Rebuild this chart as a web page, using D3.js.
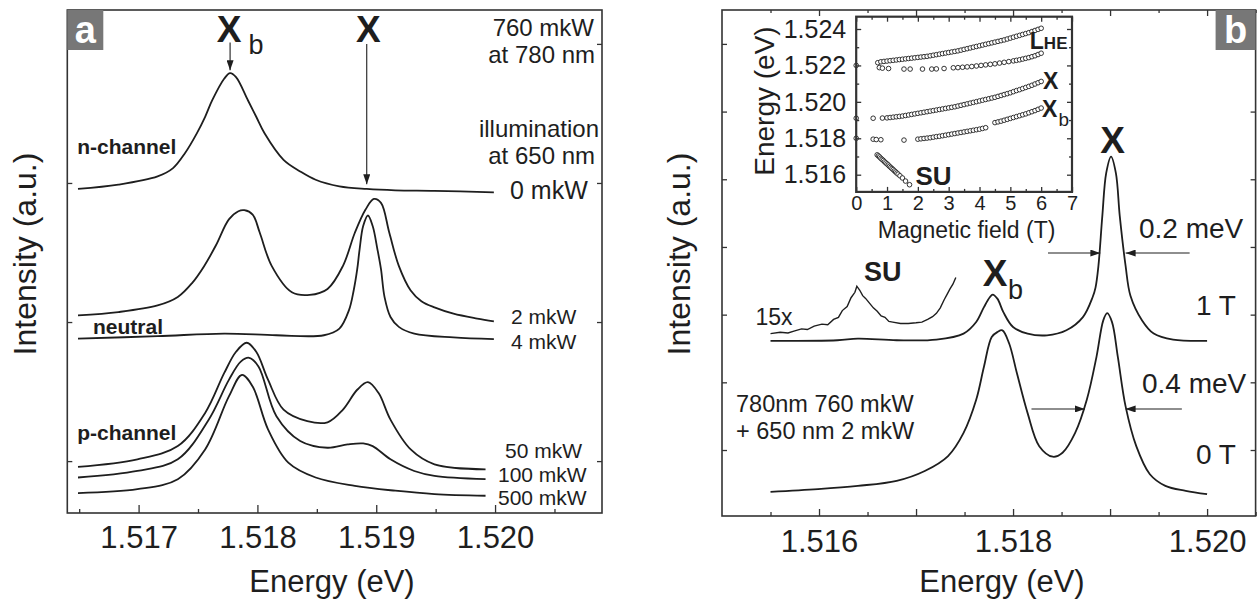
<!DOCTYPE html>
<html>
<head>
<meta charset="utf-8">
<script src="https://cdn.jsdelivr.net/npm/d3@7"></script>
<style>
  body { margin: 0; background: #fff; }
  svg { display: block; font-family: "Liberation Sans", Arial, Helvetica, sans-serif; }
</style>
</head>
<body>
<svg id="chart" width="1260" height="607"></svg>
<script>
// ---- panel a : spectra, [energy eV, intensity a.u.] ----
const nChannel0 = [[1.51649,2.957],[1.51683,2.988],[1.51716,3.047],[1.51729,3.107],[1.51739,3.214],[1.51749,3.357],[1.51756,3.476],[1.51762,3.595],[1.51772,3.749],[1.51777,3.790],[1.51782,3.761],[1.51792,3.595],[1.51799,3.476],[1.51806,3.357],[1.51822,3.166],[1.51836,3.083],[1.51849,3.023],[1.51869,2.976],[1.51892,2.957],[1.51916,2.947],[1.51949,2.943],[1.51999,2.933]];
const mkW2 = [[1.51649,2.048],[1.51683,2.072],[1.51716,2.119],[1.51733,2.18],[1.51745,2.28],[1.51755,2.40],[1.51765,2.55],[1.51776,2.738],[1.51784,2.797],[1.51789,2.804],[1.51796,2.773],[1.51802,2.642],[1.51812,2.404],[1.51829,2.214],[1.51844,2.195],[1.51859,2.238],[1.51872,2.404],[1.51882,2.642],[1.51891,2.809],[1.51898,2.885],[1.51904,2.857],[1.51911,2.642],[1.51919,2.404],[1.51929,2.227],[1.51938,2.15],[1.51949,2.105],[1.51965,2.06],[1.51985,2.025],[1.51999,2.005]];
const mkW4 = [[1.51649,1.881],[1.51716,1.898],[1.51772,1.917],[1.51816,1.905],[1.51856,1.905],[1.51869,1.953],[1.51877,2.084],[1.51881,2.227],[1.51884,2.380],[1.51886,2.523],[1.51889,2.690],[1.51893,2.766],[1.51897,2.690],[1.51901,2.523],[1.51904,2.380],[1.51907,2.179],[1.51912,2.036],[1.51919,1.965],[1.51932,1.917],[1.51965,1.889],[1.51999,1.877]];
const mkW50 = [[1.51649,0.958],[1.51699,1.013],[1.51733,1.108],[1.51756,1.346],[1.51772,1.632],[1.51782,1.786],[1.51791,1.851],[1.51799,1.786],[1.51809,1.584],[1.51822,1.370],[1.51842,1.287],[1.51859,1.279],[1.51872,1.370],[1.51884,1.513],[1.51893,1.568],[1.51902,1.489],[1.51912,1.298],[1.51929,1.084],[1.51949,0.977],[1.51992,0.941]];
const mkW100 = [[1.51649,0.882],[1.51699,0.929],[1.51733,1.013],[1.51759,1.298],[1.51776,1.584],[1.51786,1.715],[1.51793,1.743],[1.51801,1.679],[1.51816,1.322],[1.51836,1.144],[1.51859,1.096],[1.51876,1.120],[1.51889,1.127],[1.51897,1.108],[1.51912,1.013],[1.51932,0.929],[1.51949,0.894],[1.51992,0.870]];
const mkW500 = [[1.51649,0.770],[1.51699,0.798],[1.51733,0.870],[1.51756,1.084],[1.51776,1.465],[1.51787,1.620],[1.51796,1.536],[1.51809,1.227],[1.51826,0.989],[1.51849,0.882],[1.51882,0.822],[1.51916,0.787],[1.51949,0.763],[1.51992,0.751]];

const aLabelTicks = [1.517, 1.518, 1.519, 1.520];
const aMinorTicks = [1.5165, 1.5175, 1.5185, 1.5195, 1.5205];
const aYTicks = [1, 2, 3, 4];

// ---- panel b : spectra at 0 T and 1 T ----
const zeroT = [[1.5155,0.382],[1.51599,0.422],[1.5164,0.470],[1.5168,0.544],[1.51709,0.690],[1.51733,0.911],[1.51749,1.253],[1.51762,1.742],[1.5177,2.230],[1.51778,2.670],[1.51784,2.744],[1.51789,2.768],[1.51796,2.573],[1.51804,2.133],[1.51815,1.545],[1.51827,1.057],[1.51841,0.901],[1.51851,0.960],[1.51864,1.253],[1.51876,1.742],[1.51886,2.377],[1.51893,2.915],[1.51897,3.022],[1.51902,2.890],[1.51908,2.377],[1.51916,1.644],[1.51927,1.057],[1.51941,0.642],[1.51957,0.470],[1.51978,0.397],[1.52,0.348]];
const oneT = [[1.5155,2.612],[1.51619,2.622],[1.5164,2.646],[1.5168,2.622],[1.51721,2.631],[1.51749,2.720],[1.51762,2.891],[1.5177,3.111],[1.51776,3.257],[1.51779,3.297],[1.51784,3.233],[1.5179,3.037],[1.518,2.817],[1.51815,2.720],[1.51835,2.695],[1.51855,2.769],[1.51872,2.964],[1.51882,3.257],[1.51885,3.40],[1.51888,3.721],[1.51892,4.455],[1.51896,5.090],[1.51901,5.334],[1.51906,5.090],[1.5191,4.455],[1.51916,3.721],[1.51921,3.28],[1.51933,2.915],[1.51945,2.720],[1.51965,2.631],[1.52,2.612]];
const oneT15x = [[1.5155,2.72],[1.5156,2.74],[1.51568,2.73],[1.51575,2.76],[1.51582,2.79],[1.51588,2.78],[1.51595,2.83],[1.51603,2.86],[1.51609,2.85],[1.51615,2.93],[1.5162,2.96],[1.51624,3.06],[1.51629,3.12],[1.51633,3.25],[1.51637,3.33],[1.51639,3.42],[1.51642,3.36],[1.51645,3.28],[1.51648,3.24],[1.51652,3.17],[1.51656,3.10],[1.5166,3.05],[1.51664,2.98],[1.51668,2.96],[1.51672,2.90],[1.51676,2.89],[1.51684,2.87],[1.51692,2.87],[1.517,2.88],[1.51706,2.89],[1.51712,2.93],[1.51717,2.97],[1.51721,3.02],[1.51725,3.10],[1.51729,3.22],[1.51732,3.30],[1.51735,3.38],[1.51738,3.45],[1.51741,3.55]];

const bLabelTicks = [1.516, 1.518, 1.520];
const bMajorTicks = [1.516, 1.517, 1.518, 1.519, 1.520];
const bMinorTicks = [1.5155, 1.5165, 1.5175, 1.5185, 1.5195, 1.5205];
const bYTicks = [1, 2, 3, 4, 5, 6, 7];

// ---- inset : peak energy vs field, [T, eV] ----
const lheUpper = [[0.7,1.52215],[0.8,1.5222],[0.9,1.52222],[1.0,1.52224],[1.1,1.52226],[1.2,1.52228],[1.3,1.5223],[1.4,1.52232],[1.5,1.52234],[1.6,1.52236],[1.7,1.52238],[1.8,1.5224],[1.9,1.52242],[2.0,1.52244],[2.1,1.52246],[2.2,1.52248],[2.3,1.5225],[2.4,1.52253],[2.5,1.52256],[2.6,1.52259],[2.7,1.52262],[2.8,1.52265],[2.9,1.52268],[3.0,1.52271],[3.1,1.52274],[3.2,1.52277],[3.3,1.5228],[3.4,1.52284],[3.5,1.52288],[3.6,1.52292],[3.7,1.52296],[3.8,1.523],[3.9,1.52304],[4.0,1.52308],[4.1,1.52312],[4.2,1.52316],[4.3,1.5232],[4.4,1.52324],[4.5,1.52328],[4.6,1.52332],[4.7,1.52336],[4.8,1.5234],[4.9,1.52345],[5.0,1.5235],[5.1,1.52355],[5.2,1.5236],[5.3,1.52365],[5.4,1.5237],[5.5,1.52375],[5.6,1.5238],[5.7,1.52386],[5.8,1.52392],[5.9,1.52398],[6.0,1.52404]];
const lheLower = [[0.0,1.5220],[0.75,1.52188],[0.85,1.52185],[1.05,1.52183],[1.55,1.5218],[1.75,1.5218],[2.15,1.5218],[2.45,1.5218],[2.6,1.52181],[2.85,1.52183],[3.15,1.52187],[3.3,1.52188],[3.45,1.5219],[3.6,1.52192],[3.75,1.52194],[3.9,1.52197],[4.05,1.522],[4.2,1.52203],[4.35,1.52206],[4.5,1.52209],[4.65,1.52213],[4.8,1.52217],[4.95,1.52221],[5.1,1.52225],[5.2,1.52228],[5.3,1.52231],[5.4,1.52235],[5.5,1.52239],[5.6,1.52243],[5.7,1.52248],[5.8,1.52253],[5.9,1.5226],[6.0,1.52267]];
const xLine = [[0.0,1.5191],[0.55,1.5191],[0.85,1.51911],[1.0,1.51912],[1.1,1.51914],[1.2,1.51916],[1.3,1.51918],[1.4,1.5192],[1.5,1.51922],[1.6,1.51925],[1.7,1.51928],[1.8,1.51931],[1.9,1.51934],[2.0,1.51937],[2.1,1.5194],[2.2,1.51943],[2.3,1.51946],[2.4,1.51949],[2.5,1.51952],[2.6,1.51955],[2.7,1.51958],[2.8,1.51961],[2.9,1.51964],[3.0,1.51967],[3.1,1.5197],[3.2,1.51973],[3.3,1.51977],[3.4,1.51981],[3.5,1.51985],[3.6,1.51989],[3.7,1.51993],[3.8,1.51997],[3.9,1.52001],[4.0,1.52005],[4.1,1.52009],[4.2,1.52013],[4.3,1.52017],[4.4,1.52021],[4.5,1.52025],[4.6,1.5203],[4.7,1.52035],[4.8,1.5204],[4.9,1.52045],[5.0,1.5205],[5.1,1.52056],[5.2,1.52062],[5.3,1.52067],[5.4,1.52073],[5.5,1.52079],[5.6,1.52085],[5.7,1.52091],[5.8,1.52098],[5.9,1.52105],[6.0,1.52112]];
const xbLine = [[0.0,1.518],[0.55,1.51795],[0.65,1.51793],[0.8,1.51792],[1.55,1.5179],[2.0,1.51795],[2.1,1.51797],[2.2,1.51799],[2.3,1.51801],[2.4,1.51803],[2.5,1.51806],[2.6,1.51809],[2.7,1.51811],[2.8,1.51814],[2.9,1.51817],[3.0,1.5182],[3.1,1.51823],[3.2,1.51826],[3.3,1.51829],[3.4,1.51832],[3.5,1.51835],[3.6,1.51838],[3.7,1.51841],[3.8,1.51844],[3.9,1.51847],[4.0,1.5185],[4.1,1.51854],[4.2,1.51858],[4.5,1.51886],[4.6,1.5189],[4.7,1.51894],[4.8,1.51899],[4.9,1.51904],[5.0,1.51909],[5.1,1.51914],[5.2,1.51919],[5.3,1.51924],[5.4,1.51929],[5.5,1.51934],[5.6,1.5194],[5.7,1.51946],[5.8,1.51952],[5.9,1.51959],[6.0,1.51966]];
const suLine = [[0.68,1.51709],[0.72,1.51703],[0.76,1.51697],[0.8,1.5169],[0.84,1.51684],[0.88,1.51678],[0.92,1.51671],[0.96,1.51665],[1.0,1.51659],[1.04,1.51653],[1.08,1.51646],[1.12,1.5164],[1.16,1.51634],[1.2,1.51628],[1.24,1.51621],[1.28,1.51615],[1.32,1.51609],[1.36,1.51603],[1.42,1.51594],[1.5,1.51582],[1.6,1.51565],[1.73,1.51545]];

const insetXTicks = [0, 1, 2, 3, 4, 5, 6, 7];
const insetXMinor = [0.5, 1.5, 2.5, 3.5, 4.5, 5.5, 6.5];
const insetYTicks = [1.516, 1.518, 1.520, 1.522, 1.524];
const insetYMinor = [1.517, 1.519, 1.521, 1.523];

// ---- setup ----
const ink = '#1e1e1e';
const frameInk = '#333';
const svg = d3.select('#chart');
const fmt3 = d3.format('.3f');

const defs = svg.append('defs');
defs.append('marker')
  .attr('id', 'arrow')
  .attr('viewBox', '0 0 10 7')
  .attr('refX', 10).attr('refY', 3.5)
  .attr('markerWidth', 10).attr('markerHeight', 7)
  .attr('markerUnits', 'userSpaceOnUse')
  .attr('orient', 'auto')
  .append('path').attr('d', 'M0,0 L10,3.5 L0,7 Z').attr('fill', ink);

const addText = (g, x, y, str, opt = {}) => g.append('text')
  .attr('x', x).attr('y', y)
  .attr('font-size', opt.size || 25)
  .attr('font-weight', opt.bold ? 'bold' : 'normal')
  .attr('text-anchor', opt.anchor || 'start')
  .attr('fill', opt.fill || ink)
  .text(str);

const styleAxis = (sel, size) => {
  sel.select('.domain').remove();
  sel.selectAll('.tick line').attr('stroke', frameInk).attr('stroke-width', 1.3);
  sel.selectAll('.tick text').attr('fill', ink).attr('font-size', size || 31);
};

const near = (arr, d) => arr.some(v => Math.abs(v - d) < 1e-7);

// ================= panel a =================
const A = { l: 67.3, r: 602, t: 10, b: 513 };
const xA = d3.scaleLinear().domain([1.5164, 1.5209]).range([A.l, A.r]);
const yA = d3.scaleLinear().domain([1, 4]).range([461.1, 43.9]);
const gA = svg.append('g');

const lineA = d3.line().x(d => xA(d[0])).y(d => yA(d[1])).curve(d3.curveCatmullRom.alpha(0.5));
[nChannel0, mkW2, mkW4, mkW50, mkW100, mkW500].forEach(s => {
  gA.append('path').attr('d', lineA(s))
    .attr('fill', 'none').attr('stroke', ink).attr('stroke-width', 1.8);
});

// axes
const axA = gA.append('g').attr('transform', `translate(0,${A.b})`)
  .call(d3.axisBottom(xA).tickValues(aLabelTicks).tickSize(-8).tickFormat(fmt3));
styleAxis(axA);
axA.selectAll('.tick text').attr('y', 35).attr('dy', null);
styleAxis(gA.append('g').attr('transform', `translate(0,${A.b})`)
  .call(d3.axisBottom(xA).tickValues(aMinorTicks).tickSize(-4).tickFormat('')));
styleAxis(gA.append('g').attr('transform', `translate(${A.l},0)`)
  .call(d3.axisLeft(yA).tickValues(aYTicks).tickSize(-5).tickFormat('')));
styleAxis(gA.append('g').attr('transform', `translate(${A.r},0)`)
  .call(d3.axisRight(yA).tickValues(aYTicks).tickSize(-5).tickFormat('')));

gA.append('rect').attr('x', A.l).attr('y', A.t).attr('width', A.r - A.l).attr('height', A.b - A.t)
  .attr('fill', 'none').attr('stroke', frameInk).attr('stroke-width', 1.6);

// peak arrows
[[1.51777, 4.01, 3.81], [1.51892, 4.0, 2.99]].forEach(([e, i0, i1]) => {
  gA.append('line').attr('x1', xA(e)).attr('x2', xA(e)).attr('y1', yA(i0)).attr('y2', yA(i1))
    .attr('stroke', ink).attr('stroke-width', 1.1).attr('marker-end', 'url(#arrow)');
});

addText(gA, 229.1, 42.2, 'X', { size: 37, bold: true, anchor: 'middle' });
addText(gA, 248.5, 53.8, 'b', { size: 27 });
addText(gA, 368.3, 42.2, 'X', { size: 37, bold: true, anchor: 'middle' });
addText(gA, 594, 36, '760 mkW', { size: 24, anchor: 'end' });
addText(gA, 595, 63, 'at 780 nm', { size: 24, anchor: 'end' });
addText(gA, 599, 137.3, 'illumination', { size: 24, anchor: 'end' });
addText(gA, 595, 164, 'at 650 nm', { size: 24, anchor: 'end' });
addText(gA, 510, 198.9, '0 mkW');
addText(gA, 511, 324, '2 mkW', { size: 21 });
addText(gA, 511, 348.5, '4 mkW', { size: 21 });
addText(gA, 505, 458, '50 mkW', { size: 21 });
addText(gA, 498, 481.5, '100 mkW', { size: 21 });
addText(gA, 498, 505, '500 mkW', { size: 21 });
addText(gA, 77.2, 153.8, 'n-channel', { size: 21, bold: true });
addText(gA, 93, 334.2, 'neutral', { size: 21, bold: true });
addText(gA, 77.2, 440.2, 'p-channel', { size: 21, bold: true });

addText(gA, 332, 592, 'Energy (eV)', { size: 31, anchor: 'middle' });
gA.append('text').attr('transform', 'translate(36,254) rotate(-90)')
  .attr('text-anchor', 'middle').attr('font-size', 32).attr('fill', ink).text('Intensity (a.u.)');

gA.append('rect').attr('x', A.l).attr('y', A.t).attr('width', 36).attr('height', 40).attr('fill', '#777');
addText(gA, A.l + 18, A.t + 33, 'a', { size: 38, bold: true, anchor: 'middle', fill: '#fff' });

// ================= panel b =================
const B = { l: 722, r: 1255.6, t: 10, b: 516 };
const xB = d3.scaleLinear().domain([1.515, 1.5205]).range([B.l, B.r]);
const yB = d3.scaleLinear().domain([0, 7]).range([517.7, 43.9]);
const gB = svg.append('g');

const lineB = d3.line().x(d => xB(d[0])).y(d => yB(d[1])).curve(d3.curveCatmullRom.alpha(0.5));
[zeroT, oneT].forEach(s => {
  gB.append('path').attr('d', lineB(s))
    .attr('fill', 'none').attr('stroke', ink).attr('stroke-width', 1.8);
});
gB.append('path').attr('d', d3.line().x(d => xB(d[0])).y(d => yB(d[1]))(oneT15x))
  .attr('fill', 'none').attr('stroke', ink).attr('stroke-width', 1.4);

const axB = gB.append('g').attr('transform', `translate(0,${B.b})`)
  .call(d3.axisBottom(xB).tickValues(bMajorTicks).tickSize(-7)
    .tickFormat(d => near(bLabelTicks, d) ? fmt3(d) : ''));
styleAxis(axB);
axB.selectAll('.tick text').attr('y', 36).attr('dy', null);
styleAxis(gB.append('g').attr('transform', `translate(0,${B.b})`)
  .call(d3.axisBottom(xB).tickValues(bMinorTicks).tickSize(-4).tickFormat('')));
styleAxis(gB.append('g').attr('transform', `translate(0,${B.t})`)
  .call(d3.axisTop(xB).tickValues(bMajorTicks).tickSize(-6).tickFormat('')));
styleAxis(gB.append('g').attr('transform', `translate(0,${B.t})`)
  .call(d3.axisTop(xB).tickValues(bMinorTicks).tickSize(-3).tickFormat('')));
styleAxis(gB.append('g').attr('transform', `translate(${B.l},0)`)
  .call(d3.axisLeft(yB).tickValues(bYTicks).tickSize(-5).tickFormat('')));
styleAxis(gB.append('g').attr('transform', `translate(${B.r},0)`)
  .call(d3.axisRight(yB).tickValues(bYTicks).tickSize(-5).tickFormat('')));

gB.append('rect').attr('x', B.l).attr('y', B.t).attr('width', B.r - B.l).attr('height', B.b - B.t)
  .attr('fill', 'none').attr('stroke', frameInk).attr('stroke-width', 1.6);

// linewidth arrows: [intensity, left tail, left tip, right tip, right tail]
[[3.91, 1.51836, 1.5189, 1.51916, 1.51982], [1.606, 1.51819, 1.51874, 1.51916, 1.51974]].forEach(([i, a0, a1, b1, b0]) => {
  gB.append('line').attr('x1', xB(a0)).attr('x2', xB(a1)).attr('y1', yB(i)).attr('y2', yB(i))
    .attr('stroke', ink).attr('stroke-width', 1.1).attr('marker-end', 'url(#arrow)');
  gB.append('line').attr('x1', xB(b0)).attr('x2', xB(b1)).attr('y1', yB(i)).attr('y2', yB(i))
    .attr('stroke', ink).attr('stroke-width', 1.1).attr('marker-end', 'url(#arrow)');
});

addText(gB, 1112.6, 153, 'X', { size: 37, bold: true, anchor: 'middle' });
addText(gB, 1139, 237.5, '0.2 meV', { size: 28 });
addText(gB, 864, 281, 'SU', { size: 27, bold: true });
addText(gB, 995.2, 285.6, 'X', { size: 37, bold: true, anchor: 'middle' });
addText(gB, 1008, 299, 'b', { size: 27 });
addText(gB, 1196, 315.3, '1 T', { size: 28 });
addText(gB, 755.5, 325.3, '15x', { size: 23 });
addText(gB, 1142, 393, '0.4 meV', { size: 28 });
addText(gB, 736, 411.5, '780nm 760 mkW', { size: 23.5 });
addText(gB, 736, 439, '+ 650 nm 2 mkW', { size: 23.5 });
addText(gB, 1196, 464.3, '0 T', { size: 28 });

addText(gB, 1002, 592, 'Energy (eV)', { size: 31, anchor: 'middle' });
gB.append('text').attr('transform', 'translate(690,254) rotate(-90)')
  .attr('text-anchor', 'middle').attr('font-size', 32).attr('fill', ink).text('Intensity (a.u.)');

gB.append('rect').attr('x', B.r - 40).attr('y', B.t).attr('width', 40).attr('height', 40).attr('fill', '#777');
addText(gB, B.r - 20, B.t + 33, 'b', { size: 38, bold: true, anchor: 'middle', fill: '#fff' });

// ================= inset =================
const I = { l: 856.2, r: 1072, t: 16.7, b: 191.9 };
const xI = d3.scaleLinear().domain([0, 7]).range([I.l, I.r]);
const yI = d3.scaleLinear().domain([1.516, 1.524]).range([174.7, 29]);
const gI = svg.append('g');

gI.append('rect').attr('x', I.l).attr('y', I.t).attr('width', I.r - I.l).attr('height', I.b - I.t).attr('fill', '#fff');

[lheUpper, lheLower, xLine, xbLine, suLine].forEach(s => {
  gI.append('g').selectAll('circle').data(s).join('circle')
    .attr('cx', d => xI(d[0])).attr('cy', d => yI(d[1])).attr('r', 2.3)
    .attr('fill', '#fff').attr('stroke', ink).attr('stroke-width', 0.9);
});

const axIx = gI.append('g').attr('transform', `translate(0,${I.b})`)
  .call(d3.axisBottom(xI).tickValues(insetXTicks).tickSize(-5).tickFormat(d3.format('d')));
styleAxis(axIx, 20);
axIx.selectAll('.tick text').attr('y', 18.5).attr('dy', null);
styleAxis(gI.append('g').attr('transform', `translate(0,${I.b})`)
  .call(d3.axisBottom(xI).tickValues(insetXMinor).tickSize(-3).tickFormat('')));
styleAxis(gI.append('g').attr('transform', `translate(0,${I.t})`)
  .call(d3.axisTop(xI).tickValues(insetXTicks).tickSize(-5).tickFormat('')));
styleAxis(gI.append('g').attr('transform', `translate(0,${I.t})`)
  .call(d3.axisTop(xI).tickValues(insetXMinor).tickSize(-3).tickFormat('')));
const axIy = gI.append('g').attr('transform', `translate(${I.l},0)`)
  .call(d3.axisLeft(yI).tickValues(insetYTicks).tickSize(-5).tickFormat(fmt3));
styleAxis(axIy, 25);
axIy.selectAll('.tick text').attr('x', -10).attr('dy', '0.33em');
styleAxis(gI.append('g').attr('transform', `translate(${I.l},0)`)
  .call(d3.axisLeft(yI).tickValues(insetYMinor).tickSize(-3).tickFormat('')));
styleAxis(gI.append('g').attr('transform', `translate(${I.r},0)`)
  .call(d3.axisRight(yI).tickValues(insetYTicks).tickSize(-5).tickFormat('')));
styleAxis(gI.append('g').attr('transform', `translate(${I.r},0)`)
  .call(d3.axisRight(yI).tickValues(insetYMinor).tickSize(-3).tickFormat('')));

gI.append('rect').attr('x', I.l).attr('y', I.t).attr('width', I.r - I.l).attr('height', I.b - I.t)
  .attr('fill', 'none').attr('stroke', frameInk).attr('stroke-width', 2.2);

const lhe = addText(gI, 1029.8, 48.9, 'L', { size: 23, bold: true });
lhe.append('tspan').attr('font-size', 17).text('HE');
addText(gI, 1043, 89, 'X', { size: 23, bold: true });
addText(gI, 1042, 116.5, 'X', { size: 23, bold: true });
addText(gI, 1058.5, 126, 'b', { size: 19 });
addText(gI, 915.4, 184.6, 'SU', { size: 26, bold: true });
addText(gI, 966.6, 237.5, 'Magnetic field (T)', { size: 23, anchor: 'middle' });
gI.append('text').attr('transform', 'translate(774,101) rotate(-90)')
  .attr('text-anchor', 'middle').attr('font-size', 28).attr('fill', ink).text('Energy (eV)');
</script>
</body>
</html>
